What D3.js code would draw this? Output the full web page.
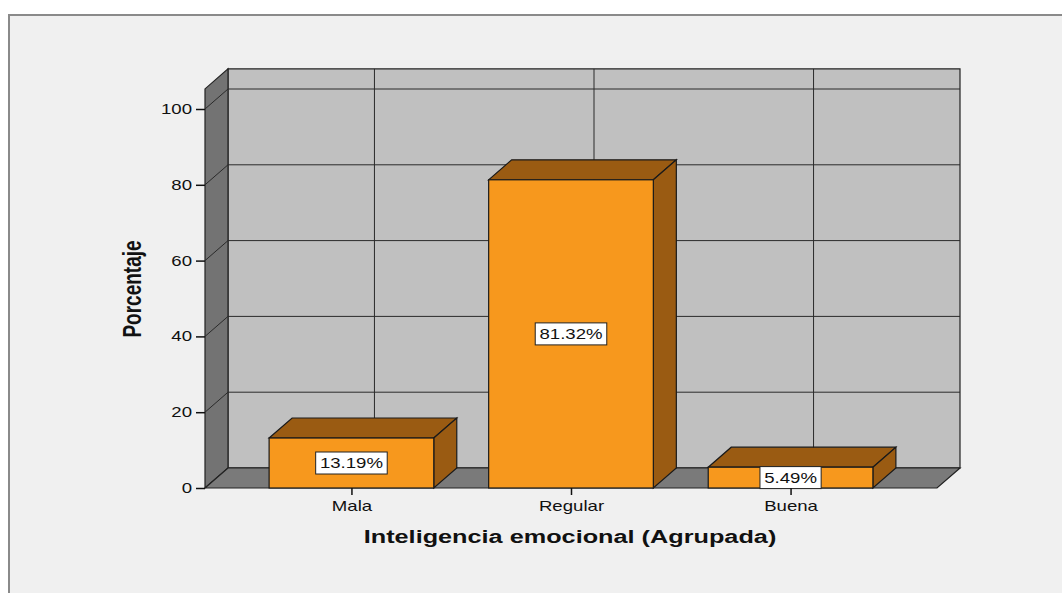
<!DOCTYPE html>
<html>
<head>
<meta charset="utf-8">
<script src="https://cdn.jsdelivr.net/npm/d3@7"></script>
<style>
  body { margin: 0; background: #ffffff; }
  text { font-family: "Liberation Sans", Arial, sans-serif; fill: #111; }
</style>
</head>
<body>
<svg id="chart"></svg>
<script>
// Data
const categories = ["Mala", "Regular", "Buena"];
const percents = [13.19, 81.32, 5.49];
const yTicks = [0, 20, 40, 60, 80, 100];
const axisMax = 105.3;

const width = 1062;
const height = 593;

// Front plane of the 3D box and depth offset
const left = 205, right = 937, bottom = 488, top100 = 109;
const dx = 23, dy = -20;
const stretch = 1.33; // the source picture is stretched sideways

const svg = d3.select("#chart")
    .attr("width", width)
    .attr("height", height);

// Panel background with border
svg.append("rect")
    .attr("x", 9).attr("y", 15)
    .attr("width", 1070).attr("height", 600)
    .attr("fill", "#f0f0f0")
    .attr("stroke", "#8a8a8a")
    .attr("stroke-width", 2);

const y = d3.scaleLinear().domain([0, 100]).range([bottom, top100]);
const x = d3.scalePoint().domain(categories).range([left, right]).padding(0.667);
const barW = x.step() * 0.75;

const line = d3.line();
const topY = y(axisMax);

// Stretched text helper
const addText = (parent, px, py, str, opts = {}) => parent.append("text")
    .attr("transform", `translate(${px},${py}) ${opts.rotate ? "rotate(-90) scale(1," + stretch + ")" : "scale(" + stretch + ",1)"}`)
    .attr("text-anchor", opts.anchor || "middle")
    .attr("font-size", opts.size || 14)
    .attr("font-weight", opts.bold ? "bold" : null)
    .attr("dy", opts.dy || null)
    .text(str);

// Back wall
svg.append("path")
    .attr("d", line([[left + dx, topY + dy], [right + dx, topY + dy], [right + dx, bottom + dy], [left + dx, bottom + dy]]) + "Z")
    .attr("fill", "#c0c0c0").attr("stroke", "#222").attr("stroke-width", 1.2);

// Left wall
svg.append("path")
    .attr("d", line([[left, bottom], [left, topY], [left + dx, topY + dy], [left + dx, bottom + dy]]) + "Z")
    .attr("fill", "#737373").attr("stroke", "#222").attr("stroke-width", 1.2);

// Horizontal gridlines on back wall and left wall
const grid = svg.append("g").attr("stroke", "#2a2a2a").attr("stroke-width", 1);
yTicks.forEach(t => {
    grid.append("line")
        .attr("x1", left + dx).attr("x2", right + dx)
        .attr("y1", y(t) + dy).attr("y2", y(t) + dy);
    grid.append("line")
        .attr("x1", left).attr("x2", left + dx)
        .attr("y1", y(t)).attr("y2", y(t) + dy);
});
// Vertical gridlines on back wall
categories.forEach(c => {
    grid.append("line")
        .attr("x1", x(c) + dx).attr("x2", x(c) + dx)
        .attr("y1", topY + dy).attr("y2", bottom + dy);
});

// Floor
svg.append("path")
    .attr("d", line([[left, bottom], [right, bottom], [right + dx, bottom + dy], [left + dx, bottom + dy]]) + "Z")
    .attr("fill", "#7a7a7a").attr("stroke", "#222").attr("stroke-width", 1.2);

// Bars
const bars = svg.append("g").selectAll("g")
    .data(categories.map((c, i) => ({ c, v: percents[i] })))
    .join("g");

bars.append("path") // top face
    .attr("d", d => {
        const x0 = x(d.c) - barW / 2, x1 = x(d.c) + barW / 2, yt = y(d.v);
        return line([[x0, yt], [x1, yt], [x1 + dx, yt + dy], [x0 + dx, yt + dy]]) + "Z";
    })
    .attr("fill", "#9a5b12").attr("stroke", "#1a1a1a").attr("stroke-width", 1.2);

bars.append("path") // side face
    .attr("d", d => {
        const x1 = x(d.c) + barW / 2, yt = y(d.v);
        return line([[x1, yt], [x1 + dx, yt + dy], [x1 + dx, bottom + dy], [x1, bottom]]) + "Z";
    })
    .attr("fill", "#9a5b12").attr("stroke", "#1a1a1a").attr("stroke-width", 1.2);

bars.append("rect") // front face
    .attr("x", d => x(d.c) - barW / 2)
    .attr("y", d => y(d.v))
    .attr("width", barW)
    .attr("height", d => bottom - y(d.v))
    .attr("fill", "#f7981d").attr("stroke", "#1a1a1a").attr("stroke-width", 1.2);

// Value labels in white boxes
bars.each(function (d) {
    const g = d3.select(this);
    const cy = (y(d.v) + bottom) / 2;
    const t = addText(g, x(d.c), cy, d.v.toFixed(2) + "%", { dy: "0.36em" });
    const w = t.node().getBBox().width * stretch;
    g.insert("rect", "text")
        .attr("x", x(d.c) - w / 2 - 4).attr("y", cy - 11)
        .attr("width", w + 8).attr("height", 22)
        .attr("fill", "#fff").attr("stroke", "#222").attr("stroke-width", 1);
});

// Y axis
const yAxis = svg.append("g")
    .attr("transform", `translate(${left},0)`)
    .call(d3.axisLeft(y).tickValues(yTicks).tickSize(9).tickPadding(4));
yAxis.select(".domain").remove();
yAxis.selectAll(".tick line").attr("stroke", "#111").attr("stroke-width", 1.5);
yAxis.selectAll(".tick text")
    .attr("font-size", 14)
    .attr("font-family", "Liberation Sans, Arial, sans-serif")
    .attr("fill", "#111")
    .attr("transform", `translate(-13,0) scale(${stretch},1)`)
    .attr("x", 0);

// X axis
const xAxis = svg.append("g")
    .attr("transform", `translate(0,${bottom})`)
    .call(d3.axisBottom(x).tickSize(7).tickPadding(6));
xAxis.select(".domain").remove();
xAxis.selectAll(".tick line").attr("stroke", "#111").attr("stroke-width", 1.5);
xAxis.selectAll(".tick text")
    .attr("font-size", 14)
    .attr("font-family", "Liberation Sans, Arial, sans-serif")
    .attr("fill", "#111")
    .attr("transform", `scale(${stretch},1)`);

// Axis titles
addText(svg, 141, 289, "Porcentaje", { rotate: true, bold: true, size: 19 });
addText(svg, 570, 543, "Inteligencia emocional (Agrupada)", { bold: true, size: 19 });
</script>
</body>
</html>
